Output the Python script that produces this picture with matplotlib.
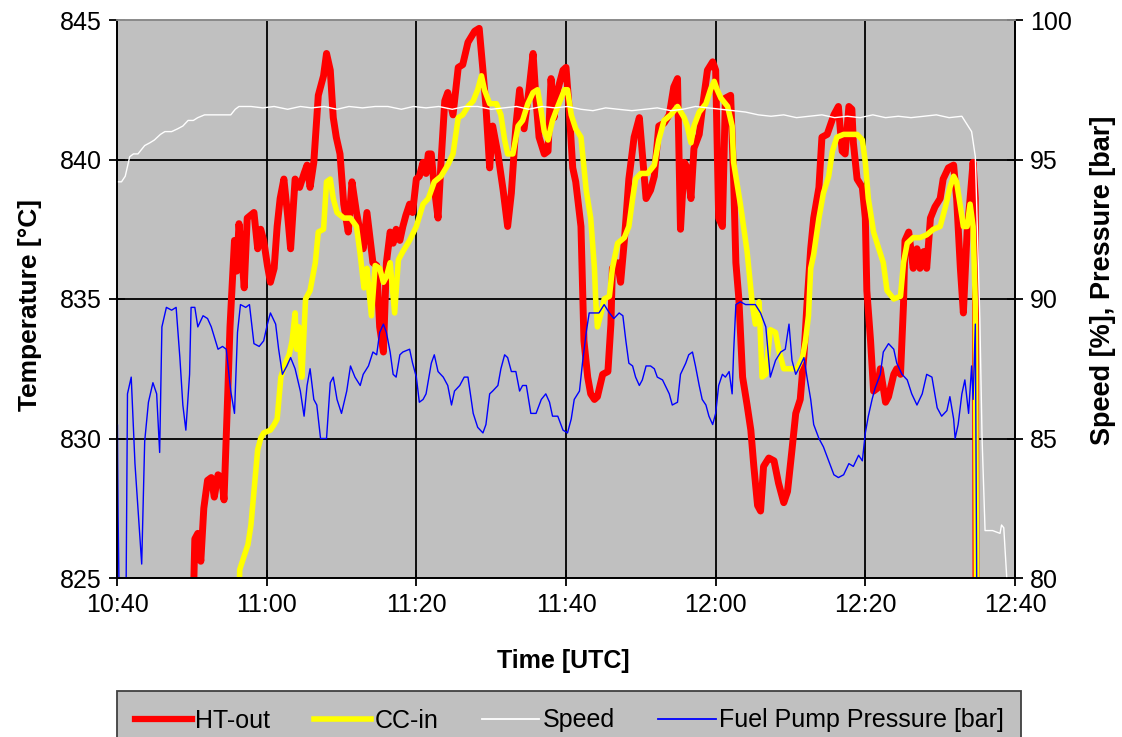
import numpy as np
import matplotlib
matplotlib.use('Agg')
import matplotlib.pyplot as plt
from matplotlib.lines import Line2D

plt.rcParams['font.family'] = ['Liberation Sans', 'DejaVu Sans']

# time in minutes after 10:40 UTC, value
ht_out = [
    (10.1, 823.0), (10.4, 826.4), (10.8, 826.6), (11.2, 825.6), (11.6, 827.5), (12.1, 828.5),
    (12.6, 828.6), (13.0, 827.9), (13.5, 828.7), (14.0, 828.6), (14.3, 827.8), (14.8, 831.6),
    (15.1, 834.0), (15.7, 837.1), (16.0, 836.0), (16.3, 837.7), (16.7, 836.5), (17.0, 835.4),
    (17.4, 837.9), (18.3, 838.1), (18.8, 836.8), (19.2, 837.5), (19.6, 837.1), (20.1, 836.2),
    (20.5, 835.6), (21.0, 836.1), (21.4, 837.6), (21.8, 838.6), (22.3, 839.3), (22.8, 838.0),
    (23.2, 836.8), (23.8, 839.3), (24.4, 839.0), (25.0, 839.5), (25.4, 839.8), (25.8, 839.0),
    (26.3, 839.9), (26.9, 842.3), (27.6, 843.0), (28.0, 843.8), (28.5, 843.2), (28.9, 841.5),
    (29.3, 840.8), (29.8, 840.2), (30.3, 838.4), (30.9, 837.4), (31.4, 839.2), (32.0, 838.1),
    (32.5, 837.4), (32.9, 836.8), (33.4, 838.1), (33.8, 837.2), (34.2, 836.3), (34.7, 836.2),
    (35.1, 834.0), (35.6, 833.1), (36.0, 836.3), (36.5, 837.4), (36.9, 837.0), (37.3, 837.5),
    (37.8, 837.1), (38.2, 837.6), (38.6, 838.0), (39.1, 838.4), (39.5, 838.1), (40.0, 839.3),
    (40.4, 839.4), (40.9, 839.9), (41.3, 839.5), (41.6, 840.2), (42.0, 840.2), (42.4, 839.0),
    (42.9, 837.9), (43.3, 839.9), (43.8, 842.1), (44.2, 842.4), (44.9, 841.6), (45.6, 843.3),
    (46.2, 843.4), (46.9, 844.2), (47.8, 844.6), (48.4, 844.7), (48.9, 843.2), (49.3, 841.9),
    (49.8, 839.7), (50.2, 841.2), (50.9, 840.2), (51.6, 838.9), (52.2, 837.6), (52.7, 838.8),
    (53.3, 841.2), (53.8, 842.5), (54.4, 841.1), (55.1, 842.6), (55.6, 843.8), (56.0, 842.1),
    (56.4, 840.8), (57.1, 840.2), (57.6, 840.3), (58.0, 842.9), (58.4, 841.5), (58.9, 842.5),
    (59.6, 843.2), (60.0, 843.3), (60.4, 841.9), (60.9, 839.7), (61.3, 839.2), (62.0, 837.6),
    (62.4, 833.5), (62.9, 832.2), (63.3, 831.6), (63.8, 831.4), (64.2, 831.5), (64.9, 832.3),
    (65.6, 832.4), (66.0, 834.1), (66.2, 836.1), (66.9, 836.3), (67.3, 835.6), (67.8, 837.1),
    (68.4, 839.3), (69.1, 840.8), (69.8, 841.5), (70.2, 840.2), (70.7, 838.6), (71.3, 838.9),
    (71.8, 839.4), (72.4, 841.2), (73.1, 841.3), (73.8, 841.6), (74.4, 842.6), (74.9, 842.9),
    (75.3, 837.5), (75.8, 839.9), (76.2, 839.7), (76.7, 838.6), (77.1, 840.4), (77.8, 840.9),
    (78.4, 842.2), (78.9, 843.2), (79.6, 843.5), (80.0, 843.2), (80.2, 840.6), (80.4, 837.9),
    (80.9, 837.6), (81.3, 842.2), (82.0, 842.3), (82.4, 839.3), (82.7, 836.3), (83.1, 835.0),
    (83.6, 832.2), (84.2, 831.2), (84.7, 830.3), (85.1, 829.0), (85.6, 827.6), (86.0, 827.4),
    (86.4, 829.0), (87.1, 829.3), (87.8, 829.2), (88.4, 828.4), (89.1, 827.7), (89.6, 828.1),
    (90.2, 829.6), (90.7, 830.9), (91.3, 831.4), (91.8, 833.0), (92.2, 834.8), (92.7, 836.8),
    (93.1, 837.9), (93.8, 839.0), (94.2, 840.8), (94.9, 840.9), (95.8, 841.6), (96.4, 841.9),
    (96.9, 840.3), (97.3, 840.2), (97.8, 841.9), (98.2, 841.8), (98.4, 840.6), (98.9, 839.3),
    (99.6, 839.0), (100.0, 837.9), (100.2, 835.3), (100.7, 833.5), (101.1, 831.7), (101.6, 831.8),
    (102.0, 832.5), (102.7, 831.3), (103.1, 831.5), (103.8, 832.3), (104.2, 832.5), (104.7, 832.3),
    (105.1, 834.8), (105.3, 837.1), (105.8, 837.4), (106.4, 836.1), (106.9, 836.8), (107.3, 836.1),
    (107.8, 836.7), (108.2, 836.1), (108.7, 837.9), (109.3, 838.3), (110.0, 838.6), (110.4, 839.3),
    (111.1, 839.7), (111.8, 839.8), (112.2, 838.6), (112.7, 836.1), (113.1, 834.5), (113.6, 837.4),
    (114.0, 838.6), (114.4, 839.9), (114.7, 838.6), (114.8, 822.0),
]

cc_in = [
    (16.2, 823.0), (16.4, 825.3), (17.0, 825.8), (17.5, 826.2), (17.9, 826.9), (18.3, 828.1),
    (18.8, 829.6), (19.2, 830.0), (19.6, 830.2), (20.5, 830.3), (21.0, 830.5), (21.4, 830.7),
    (21.9, 832.2), (22.5, 832.7), (23.0, 833.0), (23.4, 833.5), (23.8, 834.5), (24.0, 833.2),
    (24.3, 834.0), (24.7, 832.2), (25.2, 835.0), (25.8, 835.3), (26.5, 836.3), (26.9, 837.4),
    (27.6, 837.5), (28.0, 839.2), (28.5, 839.3), (28.9, 838.6), (29.4, 838.1), (30.3, 837.9),
    (31.2, 837.9), (32.0, 837.6), (32.5, 836.6), (33.0, 835.4), (33.4, 836.1), (34.0, 834.4),
    (34.5, 836.2), (35.1, 836.1), (35.6, 835.6), (36.0, 835.8), (36.5, 836.3), (37.1, 834.5),
    (37.6, 836.4), (38.2, 836.7), (39.1, 837.1), (40.0, 837.6), (40.9, 838.4), (41.6, 838.6),
    (42.4, 839.2), (43.3, 839.4), (44.2, 839.8), (44.9, 840.2), (45.6, 841.5), (46.2, 841.6),
    (46.9, 841.9), (47.6, 842.1), (48.2, 842.5), (48.7, 843.0), (49.1, 842.5), (49.8, 842.0),
    (50.7, 842.0), (51.3, 841.6), (51.8, 840.7), (52.2, 840.2), (52.9, 840.2), (53.6, 841.2),
    (54.2, 841.4), (54.9, 842.0), (55.6, 842.4), (56.2, 842.5), (56.7, 841.7), (57.1, 841.0),
    (57.6, 840.7), (58.2, 841.4), (58.9, 841.9), (59.8, 842.5), (60.2, 842.5), (60.7, 841.6),
    (61.3, 841.1), (62.0, 840.8), (62.7, 838.9), (63.3, 837.9), (63.8, 836.1), (64.0, 834.8),
    (64.2, 834.0), (64.7, 834.5), (65.1, 835.0), (65.8, 835.1), (66.2, 836.1), (66.9, 837.0),
    (67.8, 837.2), (68.4, 837.6), (68.9, 838.6), (69.3, 839.3), (70.0, 839.5), (70.9, 839.5),
    (71.8, 839.8), (72.4, 840.7), (73.1, 841.4), (74.0, 841.6), (74.9, 841.9), (75.8, 841.5),
    (76.2, 841.2), (76.7, 840.6), (77.1, 841.2), (77.8, 841.7), (78.7, 842.0), (79.3, 842.5),
    (79.8, 842.8), (80.2, 842.5), (80.7, 842.2), (81.6, 841.9), (82.2, 841.2), (82.4, 839.9),
    (83.3, 838.4), (84.2, 836.7), (84.9, 834.8), (85.3, 834.1), (85.8, 834.9), (86.0, 833.5),
    (86.2, 832.2), (86.7, 832.3), (87.3, 833.9), (88.0, 833.8), (88.4, 833.2), (89.1, 832.5),
    (90.0, 832.5), (90.9, 832.5), (91.6, 832.9), (92.0, 833.5), (92.4, 834.4), (92.7, 836.1),
    (93.1, 836.6), (93.8, 837.9), (94.4, 838.8), (95.1, 839.4), (95.6, 840.3), (96.2, 840.8),
    (97.1, 840.9), (98.0, 840.9), (98.9, 840.9), (99.6, 840.7), (100.0, 839.9), (100.4, 838.6),
    (101.1, 837.4), (101.8, 836.8), (102.4, 836.3), (102.9, 835.3), (103.8, 835.0), (104.7, 835.1),
    (105.1, 836.3), (105.6, 837.0), (106.4, 837.2), (107.3, 837.2), (108.2, 837.3), (109.1, 837.5),
    (110.0, 837.6), (110.7, 838.3), (111.3, 839.0), (111.8, 839.4), (112.2, 839.2), (112.7, 838.3),
    (113.1, 837.6), (113.6, 837.6), (114.0, 838.4), (114.4, 837.6), (114.7, 834.8), (114.9, 822.0),
]

speed = [
    (0.0, 94.2), (0.6, 94.2), (1.1, 94.4), (1.7, 95.1), (2.2, 95.2), (2.8, 95.2), (3.7, 95.5),
    (4.4, 95.6), (5.0, 95.7), (5.8, 95.9), (6.4, 96.0), (7.3, 96.0), (8.1, 96.1), (8.8, 96.2),
    (9.5, 96.4), (10.2, 96.4), (10.8, 96.5), (11.7, 96.6), (12.6, 96.6), (13.8, 96.6),
    (15.2, 96.6), (15.8, 96.8), (16.3, 96.9), (17.9, 96.9), (19.5, 96.85), (21.0, 96.9),
    (22.8, 96.8), (24.5, 96.9), (26.0, 96.85), (27.7, 96.9), (29.4, 96.8), (31.0, 96.9),
    (32.8, 96.85), (34.5, 96.9), (36.2, 96.9), (38.0, 96.8), (39.6, 96.9), (41.3, 96.85),
    (43.0, 96.9), (44.8, 96.8), (46.5, 96.9), (48.2, 96.9), (50.0, 96.8), (51.7, 96.85),
    (53.4, 96.9), (55.0, 96.8), (56.8, 96.9), (58.5, 96.85), (60.2, 96.9), (62.0, 96.8),
    (63.6, 96.75), (65.3, 96.85), (67.0, 96.8), (68.8, 96.75), (70.5, 96.8), (72.2, 96.85),
    (74.0, 96.75), (75.6, 96.8), (77.3, 96.9), (79.0, 96.85), (80.7, 96.8), (82.4, 96.75),
    (84.0, 96.7), (85.7, 96.6), (87.4, 96.55), (89.1, 96.6), (90.8, 96.5), (92.5, 96.55),
    (94.2, 96.6), (95.9, 96.5), (97.6, 96.55), (99.3, 96.5), (101.0, 96.6), (102.7, 96.5),
    (104.4, 96.55), (106.1, 96.5), (107.8, 96.55), (109.5, 96.6), (111.2, 96.5), (112.9, 96.55),
    (114.2, 96.0), (114.7, 95.1), (115.3, 89.3), (115.6, 85.0), (116.0, 81.7), (117.0, 81.7),
    (118.0, 81.6), (118.2, 81.9), (118.5, 81.8), (118.9, 80.0), (119.2, 79.0),
]

fuel_pump = [
    (0.0, 79.0), (0.05, 85.5), (0.15, 82.2), (0.3, 79.0), (1.2, 79.0), (1.4, 86.6), (1.9, 87.2),
    (2.4, 84.1), (2.8, 82.5), (3.3, 80.5), (3.7, 84.9), (4.2, 86.3), (4.8, 87.0), (5.3, 86.6),
    (5.7, 84.5), (6.0, 89.0), (6.6, 89.7), (7.3, 89.6), (7.9, 89.7), (8.4, 87.9), (8.8, 86.2),
    (9.2, 85.3), (9.7, 87.3), (9.9, 89.7), (10.4, 89.7), (10.8, 89.0), (11.5, 89.4), (12.1, 89.3),
    (12.6, 89.0), (13.5, 88.2), (14.1, 88.3), (14.6, 88.2), (15.2, 86.7), (15.7, 85.9),
    (16.1, 88.8), (16.5, 89.8), (17.2, 89.7), (17.7, 89.8), (18.3, 88.4), (19.0, 88.3),
    (19.6, 88.5), (20.1, 89.1), (20.5, 89.5), (21.2, 89.1), (21.6, 88.2), (22.1, 87.3),
    (22.7, 87.6), (23.2, 87.9), (23.8, 87.5), (24.5, 86.7), (25.0, 85.8), (25.4, 86.9),
    (25.8, 87.5), (26.3, 86.4), (26.7, 86.2), (27.2, 85.0), (28.0, 85.0), (28.5, 87.0),
    (28.9, 87.2), (29.4, 86.4), (30.0, 85.9), (30.7, 86.7), (31.2, 87.6), (31.8, 87.2),
    (32.5, 86.9), (32.9, 87.3), (33.6, 87.6), (34.2, 88.1), (34.7, 88.0), (35.1, 88.8),
    (35.6, 89.1), (36.0, 88.8), (36.5, 88.1), (36.9, 87.3), (37.3, 87.2), (37.8, 88.0),
    (38.2, 88.1), (39.1, 88.2), (39.5, 87.7), (40.0, 87.2), (40.4, 86.3), (40.9, 86.4),
    (41.3, 86.6), (42.0, 87.7), (42.4, 88.0), (42.9, 87.4), (43.6, 87.2), (44.2, 86.9),
    (44.7, 86.2), (45.1, 86.7), (45.8, 86.9), (46.4, 87.2), (46.9, 87.2), (47.6, 85.9),
    (48.2, 85.4), (48.9, 85.2), (49.3, 85.5), (49.8, 86.6), (50.2, 86.7), (50.9, 86.9),
    (51.3, 87.5), (51.8, 88.0), (52.2, 87.9), (52.7, 87.4), (53.3, 87.4), (53.8, 86.7),
    (54.2, 86.9), (54.7, 86.9), (55.3, 85.9), (56.0, 85.9), (56.7, 86.4), (57.3, 86.6),
    (57.8, 86.3), (58.2, 85.8), (58.9, 85.8), (59.6, 85.3), (60.2, 85.2), (60.7, 85.7),
    (61.1, 86.4), (61.8, 86.7), (62.2, 87.7), (62.7, 88.8), (63.1, 89.5), (63.8, 89.5),
    (64.4, 89.5), (65.1, 89.8), (65.8, 89.5), (66.4, 89.3), (67.1, 89.5), (67.6, 89.4),
    (68.0, 88.5), (68.4, 87.7), (68.9, 87.6), (69.3, 87.2), (69.8, 86.9), (70.2, 87.1),
    (70.7, 87.6), (71.3, 87.6), (71.8, 87.5), (72.2, 87.2), (72.9, 87.1), (73.8, 86.6),
    (74.2, 86.2), (74.9, 86.3), (75.3, 87.3), (76.0, 87.7), (76.4, 88.0), (76.9, 88.1),
    (77.3, 87.6), (77.8, 86.9), (78.2, 86.4), (78.7, 86.2), (79.1, 85.8), (79.6, 85.5),
    (80.0, 85.9), (80.4, 86.9), (80.9, 87.3), (81.3, 87.2), (81.8, 87.4), (82.2, 86.6),
    (82.4, 88.1), (82.7, 89.8), (83.3, 89.9), (84.0, 89.8), (84.7, 89.8), (85.3, 89.8),
    (86.0, 89.5), (86.7, 89.0), (87.3, 87.2), (88.0, 87.8), (88.7, 88.1), (89.3, 88.2),
    (89.8, 89.1), (90.2, 87.8), (90.7, 87.3), (91.1, 87.5), (91.8, 87.9), (92.2, 87.2),
    (92.7, 86.4), (93.1, 85.5), (93.8, 85.0), (94.4, 84.7), (95.1, 84.2), (95.8, 83.7),
    (96.4, 83.6), (97.1, 83.7), (97.8, 84.1), (98.4, 84.0), (99.1, 84.4), (99.6, 84.2),
    (100.0, 85.2), (100.4, 85.8), (100.9, 86.4), (101.3, 86.8), (102.0, 87.3), (102.4, 88.1),
    (103.1, 88.4), (103.8, 88.2), (104.2, 87.7), (104.9, 87.3), (105.6, 87.1), (106.2, 86.6),
    (106.9, 86.2), (107.6, 86.6), (108.2, 87.3), (108.9, 87.2), (109.6, 86.1), (110.2, 85.8),
    (110.9, 86.0), (111.3, 86.5), (111.8, 85.7), (112.0, 85.0), (112.4, 85.5), (112.9, 86.6),
    (113.3, 87.1), (113.8, 85.9), (114.2, 87.6), (114.4, 86.4), (114.7, 89.1), (114.9, 79.0),
]

time_ticks = [0, 20, 40, 60, 80, 100, 120]
time_labels = ['10:40', '11:00', '11:20', '11:40', '12:00', '12:20', '12:40']

W, H = 1122, 737
fig = plt.figure(figsize=(W / 100, H / 100), dpi=100)
ax = fig.add_axes([117 / W, 1 - 578 / H, 898 / W, 558 / H])
ax.set_facecolor('#c0c0c0')

t, v = zip(*ht_out)
ax.plot(t, v, color='#ff0000', lw=5.0)
t, v = zip(*cc_in)
ax.plot(t, v, color='#ffff00', lw=4.0)

# speed and pump pressure share the right-hand scale
ax2 = ax.twinx()
t, v = zip(*speed)
ax2.plot(t, v, color='white', lw=1.0)
t, v = zip(*fuel_pump)
ax2.plot(t, v, color='#0000ff', lw=1.0)

ax.set_xlim(0, 120)
ax.set_ylim(825, 845)
ax2.set_ylim(80, 100)
ax.set_xticks(time_ticks)
ax.set_xticklabels(time_labels)
ax.set_yticks(np.arange(825, 846, 5))
ax2.set_yticks(np.arange(80, 101, 5))

ax.set_axisbelow(True)
ax.grid(True, color='black', lw=1.3)

for a in (ax, ax2):
    a.tick_params(direction='inout', length=12, width=1.3, labelsize=18, pad=5)
    for side in ('left', 'right', 'bottom'):
        a.spines[side].set_color('black')
        a.spines[side].set_linewidth(1.3)
    a.spines['top'].set_color('#8c8c8c')
    a.spines['top'].set_linewidth(1.3)

ax.set_xlabel('Time [UTC]', fontsize=18, fontweight='bold')
ax.xaxis.set_label_coords(0.497, -0.128)
ax.set_ylabel('Temperature [°C]', fontsize=19, fontweight='bold')
ax.yaxis.set_label_coords(-0.0835, 0.49)
ax2.set_ylabel('Speed [%], Pressure [bar]', fontsize=19.5, fontweight='bold')
ax2.yaxis.set_label_coords(1.0835, 0.534)

handles = [
    Line2D([], [], color='#ff0000', lw=4.5),
    Line2D([], [], color='#ffff00', lw=4.0),
    Line2D([], [], color='white', lw=1.3),
    Line2D([], [], color='#0000ff', lw=1.3),
]
labels = ['HT-out', 'CC-in', 'Speed', 'Fuel Pump Pressure [bar]']
leg = fig.legend(handles, labels, loc='upper left', ncol=4,
                 bbox_to_anchor=(117 / W, 1 - 691 / H),
                 fontsize=18, frameon=True, fancybox=False, shadow=False,
                 facecolor='#c0c0c0', edgecolor='#404040', framealpha=1,
                 handlelength=2.3, handletextpad=0.12, columnspacing=1.75,
                 borderaxespad=0, borderpad=0.7)
leg.get_frame().set_linewidth(1.3)

fig.savefig('out.png', dpi=100, facecolor='white')
